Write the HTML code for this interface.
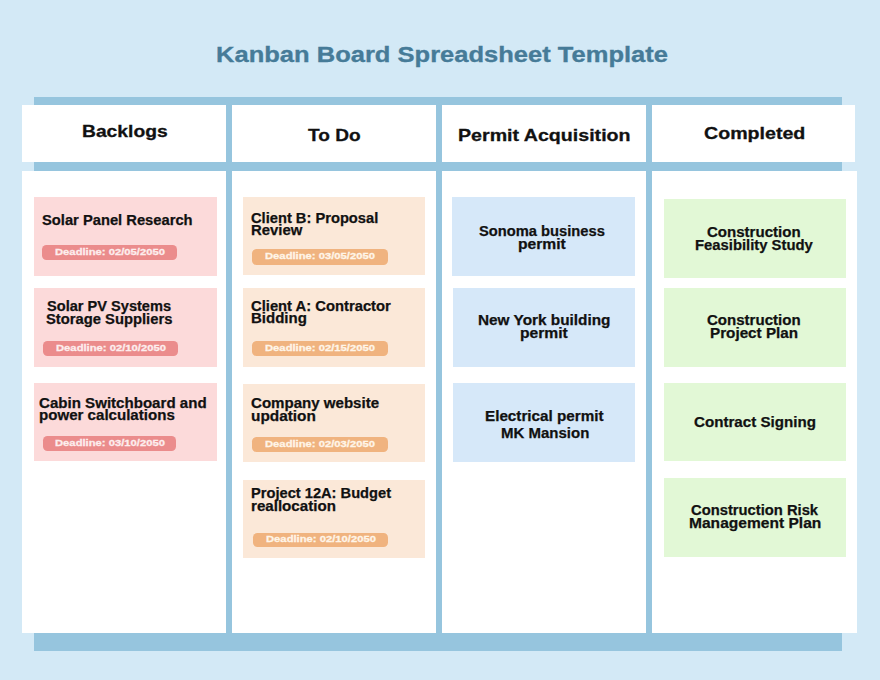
<!DOCTYPE html><html><head><meta charset="utf-8"><style>
html,body{margin:0;padding:0;width:880px;height:680px;overflow:hidden;background:#d3e9f6}
.r{position:absolute}.t{position:absolute;font-family:"Liberation Sans",sans-serif;font-weight:bold;line-height:1;white-space:nowrap;transform-origin:0 0}
</style></head><body>
<div class="r" style="left:34.00px;top:97.00px;width:808.00px;height:554.00px;background:#96c5de"></div>
<div class="r" style="left:22.00px;top:105.00px;width:203.60px;height:57.00px;background:#ffffff"></div>
<div class="r" style="left:22.00px;top:170.50px;width:203.60px;height:462.00px;background:#ffffff"></div>
<div class="r" style="left:232.00px;top:105.00px;width:203.60px;height:57.00px;background:#ffffff"></div>
<div class="r" style="left:232.00px;top:170.50px;width:203.60px;height:462.00px;background:#ffffff"></div>
<div class="r" style="left:442.30px;top:105.00px;width:203.60px;height:57.00px;background:#ffffff"></div>
<div class="r" style="left:442.30px;top:170.50px;width:203.60px;height:462.00px;background:#ffffff"></div>
<div class="r" style="left:652.40px;top:105.00px;width:203.10px;height:57.00px;background:#ffffff"></div>
<div class="r" style="left:652.40px;top:170.50px;width:204.60px;height:462.00px;background:#ffffff"></div>
<div class="r" style="left:34.00px;top:197.00px;width:183.00px;height:78.50px;background:#fcdada"></div>
<div class="r" style="left:34.00px;top:288.00px;width:183.00px;height:78.60px;background:#fcdada"></div>
<div class="r" style="left:34.00px;top:383.00px;width:183.00px;height:78.00px;background:#fcdada"></div>
<div class="r" style="left:42.00px;top:245.20px;width:135.00px;height:15.30px;background:#eb8c8c;border-radius:4.50px"></div>
<div class="r" style="left:43.00px;top:341.00px;width:134.50px;height:15.00px;background:#eb8c8c;border-radius:4.50px"></div>
<div class="r" style="left:43.00px;top:435.80px;width:133.40px;height:15.20px;background:#eb8c8c;border-radius:4.50px"></div>
<div class="r" style="left:243.00px;top:197.00px;width:182.00px;height:78.20px;background:#fbe8d8"></div>
<div class="r" style="left:243.00px;top:288.30px;width:182.00px;height:78.70px;background:#fbe8d8"></div>
<div class="r" style="left:243.00px;top:384.00px;width:182.00px;height:78.20px;background:#fbe8d8"></div>
<div class="r" style="left:243.00px;top:479.70px;width:182.00px;height:78.00px;background:#fbe8d8"></div>
<div class="r" style="left:252.30px;top:249.20px;width:135.40px;height:15.40px;background:#f0b37f;border-radius:4.50px"></div>
<div class="r" style="left:252.30px;top:340.80px;width:135.40px;height:15.20px;background:#f0b37f;border-radius:4.50px"></div>
<div class="r" style="left:252.30px;top:437.00px;width:135.50px;height:14.80px;background:#f0b37f;border-radius:4.50px"></div>
<div class="r" style="left:252.50px;top:532.60px;width:135.50px;height:14.90px;background:#f0b37f;border-radius:4.50px"></div>
<div class="r" style="left:452.30px;top:197.00px;width:182.40px;height:78.80px;background:#d6e8f9"></div>
<div class="r" style="left:453.20px;top:288.30px;width:182.30px;height:78.70px;background:#d6e8f9"></div>
<div class="r" style="left:452.60px;top:382.60px;width:182.90px;height:79.00px;background:#d6e8f9"></div>
<div class="r" style="left:663.50px;top:199.00px;width:182.50px;height:78.70px;background:#e2f8d6"></div>
<div class="r" style="left:663.50px;top:288.30px;width:182.50px;height:78.70px;background:#e2f8d6"></div>
<div class="r" style="left:663.50px;top:382.60px;width:182.50px;height:78.70px;background:#e2f8d6"></div>
<div class="r" style="left:663.50px;top:478.40px;width:182.50px;height:78.60px;background:#e2f8d6"></div>
<div class="t" style="left:215.89px;top:43.87px;font-size:23px;color:#467b98;transform:scale(1.1098,0.9700);-webkit-text-stroke:0.35px #467b98">Kanban Board Spreadsheet Template</div>
<div class="t" style="left:81.87px;top:123.00px;font-size:17px;color:#111111;transform:scale(1.1331,1.0000);-webkit-text-stroke:0.3px #111111">Backlogs</div>
<div class="t" style="left:308.30px;top:127.00px;font-size:17px;color:#111111;transform:scale(1.1224,1.0000);-webkit-text-stroke:0.3px #111111">To Do</div>
<div class="t" style="left:457.85px;top:127.00px;font-size:17px;color:#111111;transform:scale(1.1539,1.0000);-webkit-text-stroke:0.3px #111111">Permit Acquisition</div>
<div class="t" style="left:704.40px;top:125.00px;font-size:17px;color:#111111;transform:scale(1.1537,1.0000);-webkit-text-stroke:0.3px #111111">Completed</div>
<div class="t" style="left:42.30px;top:213.00px;font-size:14.5px;color:#111111;transform:scale(1.0153,1.0000);-webkit-text-stroke:0.25px #111111">Solar Panel Research</div>
<div class="t" style="left:47.00px;top:299.00px;font-size:14.5px;color:#111111;transform:scale(1.0061,1.0000);-webkit-text-stroke:0.25px #111111">Solar PV Systems</div>
<div class="t" style="left:45.70px;top:312.00px;font-size:14.5px;color:#111111;transform:scale(1.0184,1.0000);-webkit-text-stroke:0.25px #111111">Storage Suppliers</div>
<div class="t" style="left:39.30px;top:396.00px;font-size:14.5px;color:#111111;transform:scale(1.0402,1.0000);-webkit-text-stroke:0.25px #111111">Cabin Switchboard and</div>
<div class="t" style="left:39.30px;top:408.00px;font-size:14.5px;color:#111111;transform:scale(1.0401,1.0000);-webkit-text-stroke:0.25px #111111">power calculations</div>
<div class="t" style="left:251.00px;top:211.00px;font-size:14.5px;color:#111111;transform:scale(1.0124,1.0000);-webkit-text-stroke:0.25px #111111">Client B: Proposal</div>
<div class="t" style="left:251.00px;top:223.00px;font-size:14.5px;color:#111111;transform:scale(1.0258,1.0000);-webkit-text-stroke:0.25px #111111">Review</div>
<div class="t" style="left:251.00px;top:299.00px;font-size:14.5px;color:#111111;transform:scale(1.0188,1.0000);-webkit-text-stroke:0.25px #111111">Client A: Contractor</div>
<div class="t" style="left:251.00px;top:311.00px;font-size:14.5px;color:#111111;transform:scale(1.0358,1.0000);-webkit-text-stroke:0.25px #111111">Bidding</div>
<div class="t" style="left:251.00px;top:396.00px;font-size:14.5px;color:#111111;transform:scale(1.0388,1.0000);-webkit-text-stroke:0.25px #111111">Company website</div>
<div class="t" style="left:251.00px;top:409.00px;font-size:14.5px;color:#111111;transform:scale(1.0605,1.0000);-webkit-text-stroke:0.25px #111111">updation</div>
<div class="t" style="left:251.00px;top:486.00px;font-size:14.5px;color:#111111;transform:scale(1.0105,1.0000);-webkit-text-stroke:0.25px #111111">Project 12A: Budget</div>
<div class="t" style="left:251.00px;top:499.00px;font-size:14.5px;color:#111111;transform:scale(1.0431,1.0000);-webkit-text-stroke:0.25px #111111">reallocation</div>
<div class="t" style="left:479.00px;top:224.00px;font-size:14.5px;color:#111111;transform:scale(1.0143,1.0000);-webkit-text-stroke:0.25px #111111">Sonoma business</div>
<div class="t" style="left:518.00px;top:237.00px;font-size:14.5px;color:#111111;transform:scale(1.0790,1.0000);-webkit-text-stroke:0.25px #111111">permit</div>
<div class="t" style="left:477.70px;top:313.00px;font-size:14.5px;color:#111111;transform:scale(1.0583,1.0000);-webkit-text-stroke:0.25px #111111">New York building</div>
<div class="t" style="left:520.00px;top:326.00px;font-size:14.5px;color:#111111;transform:scale(1.0790,1.0000);-webkit-text-stroke:0.25px #111111">permit</div>
<div class="t" style="left:485.30px;top:409.00px;font-size:14.5px;color:#111111;transform:scale(1.0504,1.0000);-webkit-text-stroke:0.25px #111111">Electrical permit</div>
<div class="t" style="left:500.60px;top:426.00px;font-size:14.5px;color:#111111;transform:scale(1.0340,1.0000);-webkit-text-stroke:0.25px #111111">MK Mansion</div>
<div class="t" style="left:707.30px;top:225.00px;font-size:14.5px;color:#111111;transform:scale(1.0374,1.0000);-webkit-text-stroke:0.25px #111111">Construction</div>
<div class="t" style="left:695.30px;top:238.00px;font-size:14.5px;color:#111111;transform:scale(1.0221,1.0000);-webkit-text-stroke:0.25px #111111">Feasibility Study</div>
<div class="t" style="left:707.30px;top:313.00px;font-size:14.5px;color:#111111;transform:scale(1.0374,1.0000);-webkit-text-stroke:0.25px #111111">Construction</div>
<div class="t" style="left:710.00px;top:326.00px;font-size:14.5px;color:#111111;transform:scale(1.0512,1.0000);-webkit-text-stroke:0.25px #111111">Project Plan</div>
<div class="t" style="left:694.40px;top:415.00px;font-size:14.5px;color:#111111;transform:scale(1.0436,1.0000);-webkit-text-stroke:0.25px #111111">Contract Signing</div>
<div class="t" style="left:691.00px;top:503.00px;font-size:14.5px;color:#111111;transform:scale(1.0174,1.0000);-webkit-text-stroke:0.25px #111111">Construction Risk</div>
<div class="t" style="left:689.00px;top:516.00px;font-size:14.5px;color:#111111;transform:scale(1.0733,1.0000);-webkit-text-stroke:0.25px #111111">Management Plan</div>
<div class="t" style="left:54.75px;top:247.04px;font-size:10px;color:#fdeeee;transform:scale(1.1244,0.9700);-webkit-text-stroke:0.3px #fdeeee">Deadline: 02/05/2050</div>
<div class="t" style="left:55.50px;top:342.84px;font-size:10px;color:#fdeeee;transform:scale(1.1244,0.9700);-webkit-text-stroke:0.3px #fdeeee">Deadline: 02/10/2050</div>
<div class="t" style="left:54.95px;top:437.64px;font-size:10px;color:#fdeeee;transform:scale(1.1244,0.9700);-webkit-text-stroke:0.3px #fdeeee">Deadline: 03/10/2050</div>
<div class="t" style="left:265.25px;top:251.04px;font-size:10px;color:#fff5e8;transform:scale(1.1244,0.9700);-webkit-text-stroke:0.3px #fff5e8">Deadline: 03/05/2050</div>
<div class="t" style="left:265.25px;top:342.64px;font-size:10px;color:#fff5e8;transform:scale(1.1244,0.9700);-webkit-text-stroke:0.3px #fff5e8">Deadline: 02/15/2050</div>
<div class="t" style="left:265.30px;top:438.84px;font-size:10px;color:#fff5e8;transform:scale(1.1244,0.9700);-webkit-text-stroke:0.3px #fff5e8">Deadline: 02/03/2050</div>
<div class="t" style="left:265.50px;top:534.44px;font-size:10px;color:#fff5e8;transform:scale(1.1244,0.9700);-webkit-text-stroke:0.3px #fff5e8">Deadline: 02/10/2050</div>
</body></html>
